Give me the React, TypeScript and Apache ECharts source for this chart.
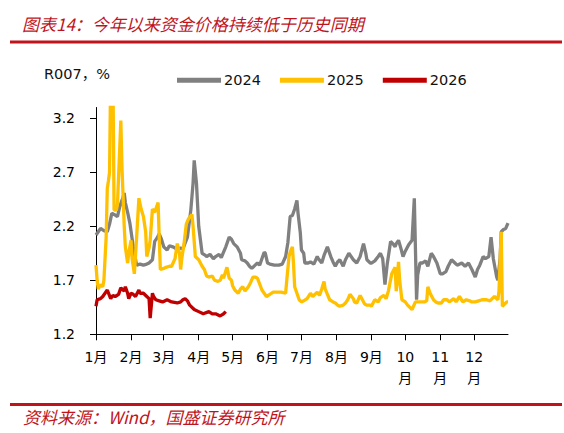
import React, { useEffect, useRef } from "react";
import * as echarts from "echarts";

// Day offsets from 1 January (leap-year calendar) where each month begins
const MONTH_STARTS = [0, 31, 60, 91, 121, 152, 182, 213, 244, 274, 305, 335];
const MONTH_LABELS = ["1月", "2月", "3月", "4月", "5月", "6月", "7月", "8月", "9月", "10\n月", "11\n月", "12\n月"];
const Y_TICKS = [1.2, 1.7, 2.2, 2.7, 3.2];

// R007 by day of year, 2024
const DAYS_2024 = [
  0, 2, 4, 7, 10, 12, 14, 16, 19, 21, 24, 25, 26, 28, 30, 33, 36, 39, 42, 45, 47, 50, 52, 54, 56, 58, 60, 63,
  65, 68, 70, 72, 75, 77, 81, 84, 86, 87, 89, 91, 94, 97, 98, 101, 104, 106, 109, 111, 113, 115, 118, 120, 122,
  125, 128, 129, 132, 134, 136, 138, 141, 143, 145, 149, 150, 152, 154, 158, 162, 165, 168, 170, 172, 174, 176,
  178, 179, 181, 182, 184, 185, 188, 190, 193, 196, 197, 200, 202, 205, 206, 208, 210, 212, 214, 216, 219, 221,
  224, 226, 228, 231, 234, 237, 239, 240, 243, 244, 247, 250, 252, 254, 256, 258, 261, 263, 265, 266, 268, 270,
  272, 274, 277, 280, 282, 284, 285, 287, 289, 292, 294, 297, 299, 302, 305, 307, 310, 312, 315, 318, 320, 324,
  327, 330, 333, 336, 338, 340, 343, 345, 348, 350, 352, 355, 356, 358, 359, 361, 363, 365,
];
const R007_2024 = [
  2.12, 2.15, 2.18, 2.16, 2.15, 2.22, 2.32, 2.31, 2.29, 2.38, 2.47, 2.51, 2.42, 2.33, 2.23, 2.01, 1.84, 1.85,
  1.84, 1.85, 1.86, 1.89, 2.06, 2.09, 2.13, 2.08, 2.01, 1.98, 2.02, 2.01, 2.0, 1.98, 2.0, 1.99, 2.1, 2.35, 2.6,
  2.81, 2.6, 2.2, 1.95, 1.93, 1.92, 1.94, 1.9, 1.92, 1.94, 1.91, 1.96, 2.01, 2.1, 2.08, 2.04, 2.01, 1.95, 1.89,
  1.88, 1.86, 1.83, 1.81, 1.84, 1.86, 1.84, 1.96, 1.95, 1.86, 1.85, 1.84, 1.84, 1.85, 1.92, 2.05, 2.29, 2.3,
  2.36, 2.44, 2.32, 2.14, 1.98, 1.95, 1.86, 1.86, 1.87, 1.85, 1.92, 1.9, 1.86, 1.93, 2.01, 1.98, 1.92, 1.87,
  1.83, 1.87, 1.89, 1.83, 1.89, 1.95, 1.92, 1.89, 1.86, 1.92, 2.04, 1.95, 1.89, 1.86, 1.86, 1.88, 1.92, 1.95,
  1.9, 1.66, 1.85, 2.06, 2.04, 2.01, 2.04, 2.07, 2.0, 1.92, 1.97, 2.03, 2.07, 2.46, 1.52, 1.75, 1.86, 1.86,
  1.88, 1.83, 1.95, 1.92, 1.86, 1.76, 1.76, 1.78, 1.83, 1.89, 1.86, 1.84, 1.86, 1.83, 1.86, 1.8, 1.73, 1.8,
  1.84, 1.92, 1.9, 1.92, 2.1, 1.9, 1.73, 1.7, 1.9, 2.15, 2.17, 2.18, 2.23,
];

// R007 by day of year, 2025
const DAYS_2025 = [
  0, 1, 2, 4, 6, 7, 9, 10, 11, 12, 13, 15, 16, 18, 19, 22, 23, 25, 26, 28, 29, 31, 32, 34, 36, 38, 40, 42, 44,
  45, 47, 48, 50, 52, 55, 56, 57, 60, 62, 65, 67, 70, 72, 74, 75, 76, 78, 80, 82, 85, 86, 88, 91, 94, 96, 98,
  100, 103, 105, 108, 110, 112, 113, 116, 118, 120, 121, 123, 126, 128, 130, 132, 135, 137, 139, 141, 143, 147,
  149, 151, 154, 157, 160, 164, 168, 169, 171, 172, 174, 175, 176, 180, 182, 184, 187, 190, 192, 196, 198, 200,
  202, 203, 205, 207, 210, 212, 214, 216, 219, 221, 223, 225, 228, 229, 231, 234, 236, 238, 240, 243, 244, 247,
  250, 252, 255, 257, 259, 262, 265, 266, 268, 269, 271, 274, 276, 280, 283, 286, 289, 291, 293, 294, 296, 299,
  301, 303, 306, 308, 311, 313, 317, 319, 322, 325, 328, 331, 333, 336, 339, 342, 344, 346, 349, 351, 353, 356,
  357, 359, 360, 362, 364, 365,
];
const R007_2025 = [
  1.84, 1.7, 1.62, 1.66, 1.64, 1.7, 2.1, 2.55, 2.62, 2.7, 3.6, 3.6, 2.35, 2.35, 2.4, 3.18, 2.75, 2.2, 2.01,
  1.86, 1.95, 2.07, 1.9, 1.76, 2.1, 2.46, 2.36, 2.29, 2.15, 1.92, 2.0, 2.07, 2.36, 2.33, 2.42, 2.1, 1.8, 1.81,
  1.82, 1.83, 1.83, 1.9, 2.04, 1.95, 1.8, 1.9, 2.04, 2.22, 2.27, 2.31, 2.2, 1.92, 1.89, 1.83, 1.8, 1.74, 1.73,
  1.74, 1.7, 1.69, 1.7, 1.75, 1.72, 1.82, 1.72, 1.7, 1.65, 1.61, 1.58, 1.62, 1.64, 1.6, 1.64, 1.68, 1.73, 1.73,
  1.72, 1.61, 1.58, 1.55, 1.57, 1.59, 1.59, 1.59, 1.58, 1.7, 1.92, 1.96, 2.01, 1.85, 1.64, 1.52, 1.5, 1.51,
  1.53, 1.58, 1.55, 1.59, 1.56, 1.62, 1.69, 1.62, 1.57, 1.52, 1.5, 1.49, 1.47, 1.46, 1.47, 1.49, 1.52, 1.57,
  1.53, 1.5, 1.49, 1.56, 1.52, 1.48, 1.47, 1.47, 1.46, 1.52, 1.5, 1.54, 1.56, 1.53, 1.6, 1.76, 1.82, 1.6, 1.87,
  1.7, 1.52, 1.5, 1.47, 1.43, 1.5, 1.5, 1.5, 1.5, 1.51, 1.64, 1.58, 1.52, 1.5, 1.49, 1.49, 1.52, 1.52, 1.5,
  1.53, 1.5, 1.55, 1.5, 1.52, 1.51, 1.5, 1.5, 1.51, 1.52, 1.52, 1.52, 1.51, 1.53, 1.55, 1.52, 1.6, 2.15, 1.46,
  1.48, 1.5, 1.5,
];

// R007 by day of year, 2026 (year to date)
const DAYS_2026 = [
  0, 1, 4, 6, 8, 10, 13, 15, 17, 20, 22, 23, 25, 26, 28, 29, 31, 33, 35, 38, 39, 42, 45, 47, 48, 50, 51, 53,
  56, 59, 63, 67, 72, 75, 77, 79, 81, 83, 87, 91, 95, 100, 103, 106, 110, 113, 115,
];
const R007_2026 = [
  1.46, 1.52, 1.53, 1.55, 1.58, 1.61, 1.53, 1.56, 1.55, 1.57, 1.63, 1.62, 1.6, 1.64, 1.58, 1.53, 1.58, 1.57,
  1.55, 1.61, 1.58, 1.58, 1.55, 1.53, 1.35, 1.58, 1.55, 1.52, 1.51, 1.5, 1.52, 1.5, 1.49, 1.5, 1.52, 1.53,
  1.51, 1.47, 1.43, 1.41, 1.39, 1.41, 1.39, 1.39, 1.37, 1.39, 1.41,
];

const SERIES_NAMES = ["2024", "2025", "2026"];
const SERIES_COLORS = ["#808080", "#FFC000", "#C00000"];

const RED = "#C0141C";
const LATIN_FONT = "DejaVu Sans, Noto Sans CJK SC, sans-serif";
const CJK_FONT = "Noto Sans CJK SC, sans-serif";

const zip = (xs: number[], ys: number[]) => xs.map((x, i) => [x, ys[i]]);

export default function App() {
  const ref = useRef<HTMLDivElement>(null);

  useEffect(() => {
    if (!ref.current) return;
    const chart = echarts.init(ref.current, undefined, { renderer: "svg" });

    const seriesData = [zip(DAYS_2024, R007_2024), zip(DAYS_2025, R007_2025), zip(DAYS_2026, R007_2026)];

    chart.setOption({
      animation: false,
      backgroundColor: "#ffffff",
      grid: { left: 96, right: 56, top: 107.5, bottom: 98.7, containLabel: false },
      legend: {
        data: SERIES_NAMES,
        left: 172,
        top: 68,
        icon: "rect",
        itemWidth: 44,
        itemHeight: 5,
        itemGap: 19,
        textStyle: { fontFamily: LATIN_FONT, fontSize: 14.5, color: "#111", padding: [0, 0, 0, -2] },
      },
      xAxis: {
        type: "value",
        min: 0,
        max: 365,
        splitLine: { show: false },
        axisLine: { show: true, lineStyle: { color: "#000", width: 1 } },
        axisTick: {
          show: true,
          inside: false,
          length: 6,
          customValues: MONTH_STARTS,
          lineStyle: { color: "#000" },
        },
        axisLabel: {
          customValues: MONTH_STARTS,
          margin: 12,
          fontFamily: LATIN_FONT,
          fontSize: 14,
          lineHeight: 21,
          color: "#000",
          formatter: (v: number) => {
            const i = MONTH_STARTS.indexOf(Math.round(v));
            return i >= 0 ? MONTH_LABELS[i] : "";
          },
        },
      },
      yAxis: {
        type: "value",
        min: 1.2,
        max: 3.3,
        splitLine: { show: false },
        axisLine: { show: true, lineStyle: { color: "#000", width: 1 } },
        axisTick: {
          show: true,
          inside: false,
          length: 6,
          customValues: Y_TICKS,
          lineStyle: { color: "#000" },
        },
        axisLabel: {
          customValues: Y_TICKS,
          margin: 21,
          fontFamily: LATIN_FONT,
          fontSize: 14,
          color: "#000",
          formatter: (v: number) => v.toFixed(1),
        },
      },
      series: SERIES_NAMES.map((name, i) => ({
        name,
        type: "line",
        data: seriesData[i],
        symbol: "none",
        showSymbol: false,
        clip: true,
        color: SERIES_COLORS[i],
        lineStyle: { color: SERIES_COLORS[i], width: 3.3 },
        z: 2 + i,
      })),
      graphic: [
        {
          type: "text",
          left: 22,
          top: 15,
          style: {
            text: "图表14：今年以来资金价格持续低于历史同期",
            fill: RED,
            fontFamily: CJK_FONT,
            fontStyle: "italic",
            fontSize: 17,
          },
        },
        {
          type: "rect",
          shape: { x: 10, y: 40.5, width: 552, height: 3 },
          style: { fill: RED },
        },
        {
          type: "text",
          left: 44,
          top: 67,
          style: {
            text: "R007，%",
            fill: "#111",
            fontFamily: LATIN_FONT,
            fontSize: 14.5,
          },
        },
        {
          type: "rect",
          shape: { x: 10, y: 403, width: 552, height: 3 },
          style: { fill: RED },
        },
        {
          type: "text",
          left: 23,
          top: 408,
          style: {
            text: "资料来源：Wind，国盛证券研究所",
            fill: RED,
            fontFamily: CJK_FONT,
            fontStyle: "italic",
            fontSize: 17,
          },
        },
      ],
    });

    return () => chart.dispose();
  }, []);

  return (
    <div
      ref={ref}
      style={{ position: "fixed", left: 0, top: 0, width: 564, height: 433, background: "#fff" }}
    />
  );
}
